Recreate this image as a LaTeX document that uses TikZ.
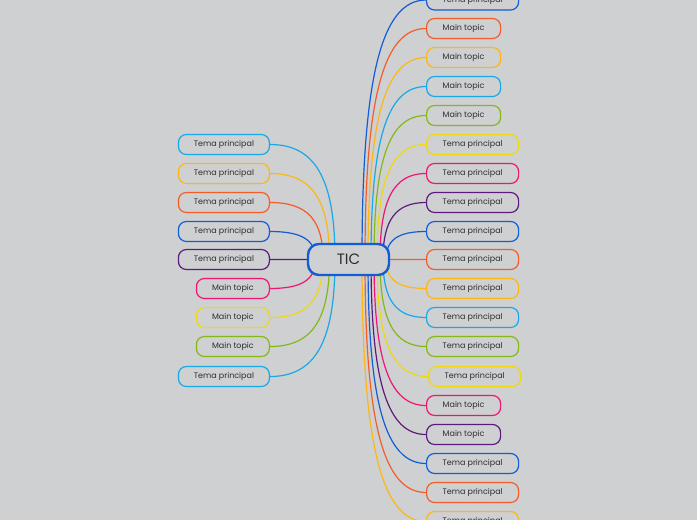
\documentclass[tikz,border=0pt]{standalone}
\usepackage{fontspec}
\setmainfont{Poppins}
\usepackage{tikz}
\usetikzlibrary{calc,backgrounds}
\definecolor{bgc}{RGB}{207,208,210}
\definecolor{bluec}{RGB}{18,92,214}
\definecolor{orangec}{RGB}{244,92,42}
\definecolor{amberc}{RGB}{253,183,20}
\definecolor{skyc}{RGB}{24,168,230}
\definecolor{greenc}{RGB}{132,184,24}
\definecolor{yellowc}{RGB}{240,216,16}
\definecolor{pinkc}{RGB}{238,22,114}
\definecolor{purplec}{RGB}{92,26,124}
\definecolor{inkc}{RGB}{45,45,45}

\begin{document}
\begin{tikzpicture}[x=1pt, y=-1pt, line cap=round,
  topic/.style={draw=#1, line width=1.2pt, rounded corners=8pt, fill=bgc,
    minimum height=20pt, inner xsep=0pt, text=inkc,
    font=\fontsize{8}{9}\selectfont},
  link/.style={draw=#1, line width=1.2pt}]
  \def\k{0.7}
  \useasboundingbox (0,0) rectangle (697,520);
  \clip (0,0) rectangle (697,520);

  % central topic
  \node[draw=bluec, line width=2.4pt, rounded corners=11pt, fill=bgc,
    minimum width=81pt, minimum height=31pt, text=inkc,
    font=\fontsize{15}{17}\selectfont] (tic) at (348.5,259.5) {TIC};

  % right branch: index/y/start offset/colour/width/label
  \foreach \i/\y/\dx/\c/\w/\t in {
      1/0/13.5/bluec/92/Tema principal,
      2/28.5/16.5/orangec/74/Main topic,
      3/57.5/19.5/amberc/74/Main topic,
      4/86.5/22.5/skyc/74/Main topic,
      5/115.5/25.5/greenc/74/Main topic,
      6/144.5/28.5/yellowc/92/Tema principal,
      7/173.5/31.5/pinkc/92/Tema principal,
      8/202.5/34.5/purplec/92/Tema principal,
      9/231.5/37.5/bluec/92/Tema principal,
      10/259.5/39/orangec/92/Tema principal,
      11/288.5/37.5/amberc/92/Tema principal,
      12/317.5/34.5/skyc/92/Tema principal,
      13/346.5/31.5/greenc/92/Tema principal,
      14/376.5/28.5/yellowc/92/Tema principal,
      15/405.5/25.5/pinkc/74/Main topic,
      16/434.5/22.5/purplec/74/Main topic,
      17/463.5/19.5/bluec/92/Tema principal,
      18/492.5/16.5/orangec/92/Tema principal,
      19/521.5/13.5/amberc/92/Tema principal}{
    \node[topic=\c, minimum width=\w pt, anchor=west] (r\i)
      at (\ifnum\i=14 428\else 426\fi,\y) {\t};
    \coordinate (rs\i) at ($(tic.center)+(\dx,0)$);
    \coordinate (rk\i) at (rs\i |- r\i.west);
  }

  % left branch
  \foreach \i/\y/\dx/\c/\w/\t in {
      1/144.5/-13.5/skyc/91/Tema principal,
      2/173.5/-19/amberc/91/Tema principal,
      3/202.5/-25.5/orangec/91/Tema principal,
      4/231.5/-33/bluec/91/Tema principal,
      5/259.5/-40/purplec/91/Tema principal,
      6/288.5/-33/pinkc/73/Main topic,
      7/317.5/-25.5/yellowc/73/Main topic,
      8/346.5/-19/greenc/73/Main topic,
      9/376.5/-13.5/skyc/91/Tema principal}{
    \node[topic=\c, minimum width=\w pt, anchor=east] (l\i) at (270,\y) {\t};
    \coordinate (ls\i) at ($(tic.center)+(\dx,0)$);
    \coordinate (lk\i) at (ls\i |- l\i.east);
  }

  % connectors behind the boxes
  \begin{pgfonlayer}{background}
    \fill[bgc] (0,0) rectangle (697,520);
    \foreach \i/\c in {1/bluec, 2/orangec, 3/amberc, 4/skyc, 5/greenc,
        6/yellowc, 7/pinkc, 8/purplec, 9/bluec, 10/orangec, 11/amberc,
        12/skyc, 13/greenc, 14/yellowc, 15/pinkc, 16/purplec, 17/bluec,
        18/orangec, 19/amberc}
      \draw[link=\c] (rs\i) .. controls ($(rs\i)!\k!(rk\i)$)
        and ($(r\i.west)!\k!(rk\i)$) .. (r\i.west);
    \foreach \i/\c in {1/skyc, 2/amberc, 3/orangec, 4/bluec, 5/purplec,
        6/pinkc, 7/yellowc, 8/greenc, 9/skyc}
      \draw[link=\c] (ls\i) .. controls ($(ls\i)!\k!(lk\i)$)
        and ($(l\i.east)!\k!(lk\i)$) .. (l\i.east);
  \end{pgfonlayer}
\end{tikzpicture}
\end{document}
